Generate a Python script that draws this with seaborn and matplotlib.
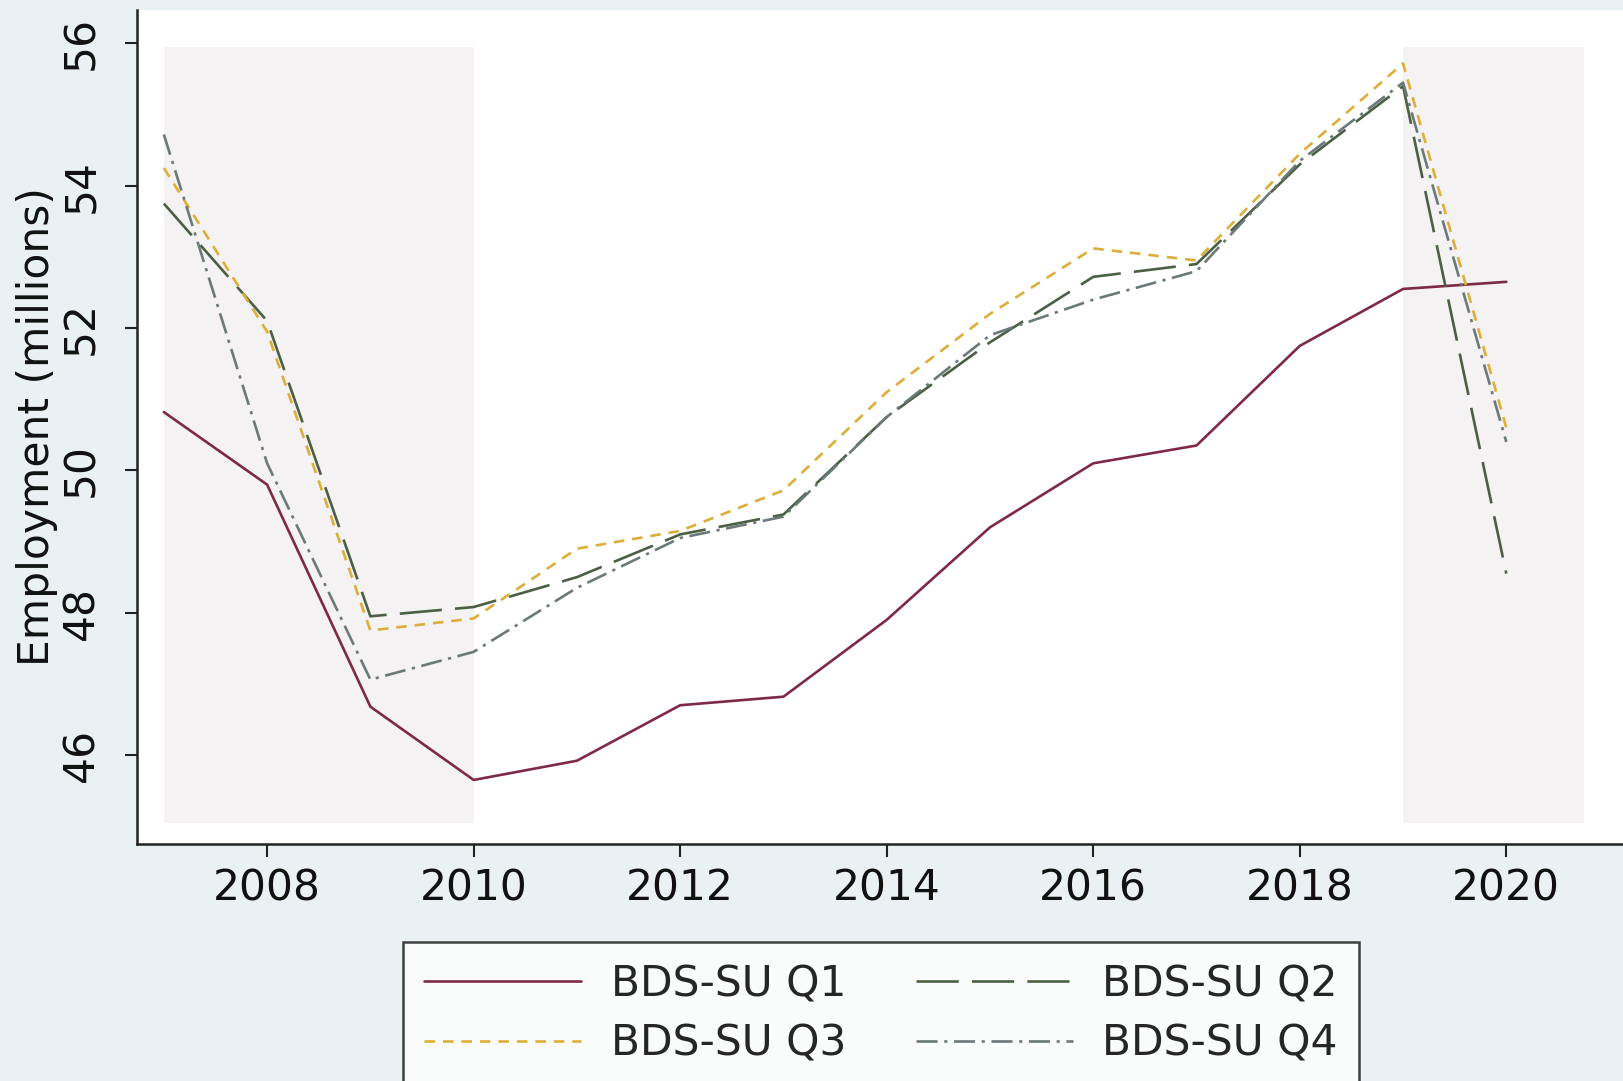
import matplotlib
matplotlib.use("Agg")
import matplotlib.pyplot as plt
import seaborn as sns
import pandas as pd

# ---- data ----
years = [2007, 2008, 2009, 2010, 2011, 2012, 2013, 2014, 2015, 2016, 2017, 2018, 2019, 2020]
q1 = [50.82, 49.80, 46.68, 45.65, 45.92, 46.70, 46.82, 47.90, 49.20, 50.10, 50.35, 51.75, 52.55, 52.65]
q2 = [53.75, 52.10, 47.95, 48.08, 48.50, 49.10, 49.38, 50.75, 51.80, 52.72, 52.90, 54.30, 55.40, 48.55]
q3 = [54.25, 51.95, 47.75, 47.92, 48.90, 49.15, 49.72, 51.10, 52.20, 53.12, 52.95, 54.45, 55.72, 50.60]
q4 = [54.72, 50.10, 47.06, 47.45, 48.35, 49.05, 49.35, 50.75, 51.90, 52.40, 52.80, 54.35, 55.45, 50.40]
series_names = ["BDS-SU Q1", "BDS-SU Q2", "BDS-SU Q3", "BDS-SU Q4"]
recessions = [(2007.0, 2010.0), (2019.0, 2020.75)]
band_range = (45.05, 55.95)
xticks = [2008, 2010, 2012, 2014, 2016, 2018, 2020]
yticks = [46, 48, 50, 52, 54, 56]

df = pd.concat([
    pd.DataFrame({"year": years, "emp": vals, "series": name})
    for name, vals in zip(series_names, [q1, q2, q3, q4])
], ignore_index=True)

colors = {"BDS-SU Q1": "#7e2a44", "BDS-SU Q2": "#4b5f44",
          "BDS-SU Q3": "#dcae3a", "BDS-SU Q4": "#6b7a79"}
dashes = {"BDS-SU Q1": "", "BDS-SU Q2": (16, 5),
          "BDS-SU Q3": (4, 3), "BDS-SU Q4": (8, 2.5, 1.2, 2.5)}

sns.set_theme(style="white")
plt.rcParams["font.family"] = ["DejaVu Sans"]

W, H = 1623, 1081
fig = plt.figure(figsize=(W / 100, H / 100), dpi=100)
fig.patch.set_facecolor("#eaf1f2")

left, right, bottom, top = 137, 1623, 844, 10
ax = fig.add_axes([left / W, (H - bottom) / H, (right - left) / W, (bottom - top) / H])
ax.set_facecolor("white")

for x0, x1 in recessions:
    ax.fill_between([x0, x1], band_range[0], band_range[1], color="#f5f2f3", lw=0, zorder=0)

sns.lineplot(data=df, x="year", y="emp", hue="series", style="series",
             palette=colors, dashes=dashes, linewidth=1.9, ax=ax, legend=True,
             zorder=3)

ax.set_xlim(2006.74, 2021.13)
ax.set_ylim(44.75, 56.47)
ax.set_xticks(xticks)
ax.set_yticks(yticks)
ax.set_xticklabels([str(t) for t in xticks])
ax.set_yticklabels([str(t) for t in yticks])

for s in ["top", "right"]:
    ax.spines[s].set_visible(False)
for s in ["left", "bottom"]:
    ax.spines[s].set_color("#222222")
    ax.spines[s].set_linewidth(1.8)

ax.tick_params(axis="both", which="major", direction="out", length=9, width=1.5,
               color="#222222", labelsize=30.5, labelcolor="#111111",
               left=True, bottom=True)
ax.tick_params(axis="x", pad=8)
ax.tick_params(axis="y", pad=16)
for lab in ax.get_yticklabels():
    lab.set_rotation(90)
    lab.set_va("center")
    lab.set_ha("right")

ax.set_xlabel("")
ax.set_ylabel("Employment (millions)", fontsize=30.5, color="#111111")
ax.yaxis.set_label_coords(-0.053, 0.5)

handles, labels = ax.get_legend_handles_labels()
ax.get_legend().remove()
order = [0, 2, 1, 3]  # row-major filling: Q1 Q2 / Q3 Q4
handles = [handles[i] for i in order]
labels = [labels[i] for i in order]
leg = fig.legend(handles, labels, loc="upper left",
                 bbox_to_anchor=(403 / W, 1 - 942 / H),
                 bbox_transform=fig.transFigure,
                 ncol=2, fontsize=30.5, frameon=True, fancybox=False,
                 handlelength=3.7, handletextpad=0.7, columnspacing=1.65,
                 labelspacing=0.42, borderpad=0.5, borderaxespad=0)
leg.get_frame().set_edgecolor("#111111")
leg.get_frame().set_linewidth(1.8)
leg.get_frame().set_facecolor("white")
for line in leg.get_lines():
    line.set_linewidth(1.9)

fig.savefig("out.png", dpi=100, facecolor=fig.get_facecolor())
